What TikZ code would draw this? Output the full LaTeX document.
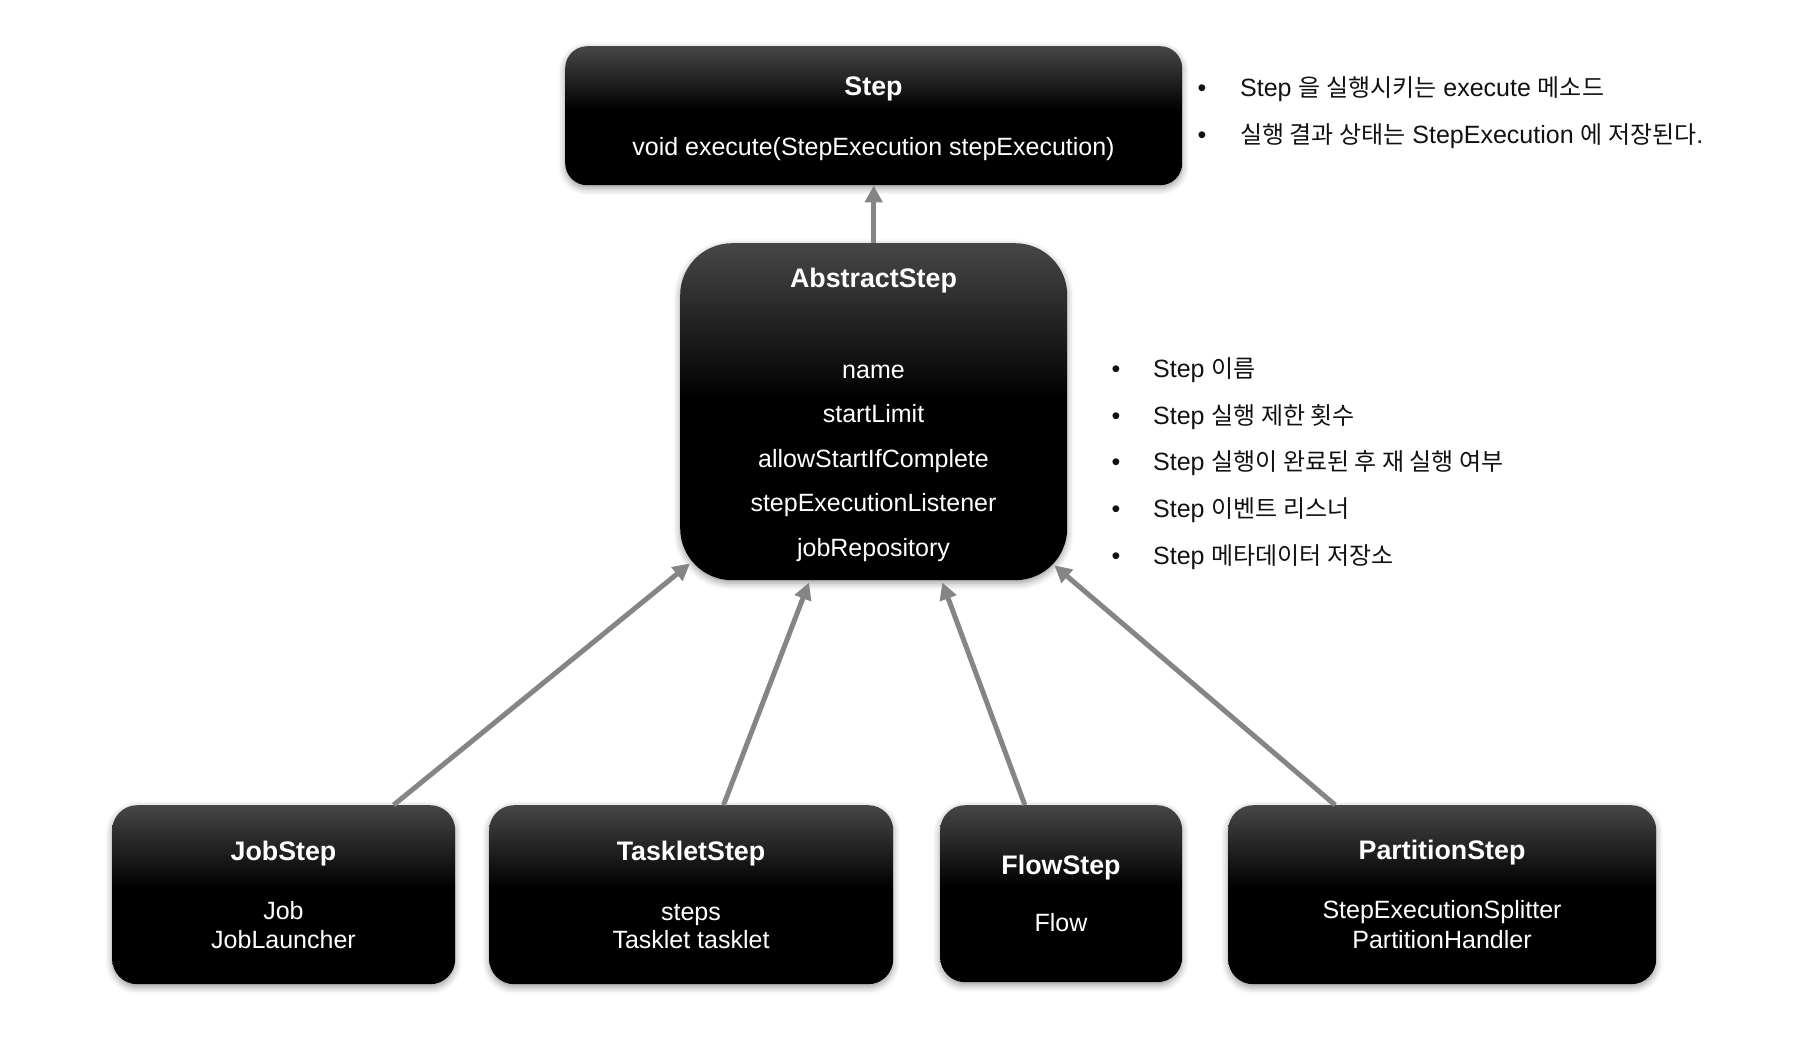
\documentclass[tikz,border=0pt]{standalone}
\usepackage{fontspec}
\setmainfont{Liberation Sans}
\newfontfamily\krfont[Scale=0.96]{Noto Sans CJK KR}
\newcommand{\hg}[1]{{\krfont #1}}
\usetikzlibrary{arrows.meta,calc,shadows.blur}
\definecolor{boxtop}{HTML}{474747}
\definecolor{linkgray}{HTML}{858585}
\definecolor{notetext}{HTML}{111111}
% dark card: grey at the top edge fading to black
\pgfdeclareverticalshading{boxshade}{100bp}{color(0bp)=(black); color(52bp)=(black); color(75bp)=(boxtop); color(100bp)=(boxtop)}

\begin{document}
\begin{tikzpicture}[x=1pt,y=-1pt,
  card/.style={rectangle, rounded corners=#1, shading=boxshade, draw=none,
    inner sep=0pt, anchor=north west,
    blur shadow={shadow xshift=0pt, shadow yshift=-3pt, shadow blur radius=7pt, shadow opacity=40}},
  title/.style={text=white, anchor=base, inner sep=0pt, font=\bfseries\fontsize{26.8}{30}\selectfont},
  body/.style={text=white, anchor=base, inner sep=0pt, font=\fontsize{25}{29}\selectfont},
  note/.style={text=notetext, anchor=base west, inner sep=0pt, font=\fontsize{25}{29}\selectfont},
  dot/.style={text=notetext, anchor=base, inner sep=0pt, font=\fontsize{25}{29}\selectfont},
  link/.style={draw=linkgray, line width=5pt, -{Triangle[length=17pt,width=17pt]}}
]
\useasboundingbox (0,0) rectangle (1808,1042);

% ---- boxes ----
\node[card=22pt, minimum width=617pt, minimum height=139pt] (step) at (565,46) {};
\node[card=52pt, minimum width=387pt, minimum height=337pt] (abs) at (680,243) {};
\node[card=25pt, minimum width=343pt, minimum height=179pt] (job) at (112,805) {};
\node[card=25pt, minimum width=404pt, minimum height=179pt] (tasklet) at (489,805) {};
\node[card=25pt, minimum width=242pt, minimum height=177pt] (flow) at (940,805) {};
\node[card=25pt, minimum width=428pt, minimum height=179pt] (partition) at (1228,805) {};

% ---- Step ----
\node[title] (stepT) at (873.5,95) {Step};
\node[body] (stepM) at (873.5,155) {void execute(StepExecution stepExecution)};

% ---- AbstractStep ----
\node[title] (absT) at (873.5,287) {AbstractStep};
\node[body] (absF1) at (873.5,378) {name};
\node[body] (absF2) at (873.5,422) {startLimit};
\node[body] (absF3) at (873.5,467) {allowStartIfComplete};
\node[body] (absF4) at (873.5,511) {stepExecutionListener};
\node[body] (absF5) at (873.5,556) {jobRepository};

% ---- implementations ----
\node[title] (jobT) at (283.5,860) {JobStep};
\node[body] (jobA) at (283.5,919) {Job};
\node[body] (jobB) at (283.5,948) {JobLauncher};

\node[title] (taskT) at (691,860) {TaskletStep};
\node[body] (taskA) at (691,920) {steps};
\node[body] (taskB) at (691,948) {Tasklet tasklet};

\node[title] (flowT) at (1061,874) {FlowStep};
\node[body] (flowA) at (1061,931) {Flow};

\node[title] (partT) at (1442,859) {PartitionStep};
\node[body] (partA) at (1442,918) {StepExecutionSplitter};
\node[body] (partB) at (1442,948) {PartitionHandler};

% ---- notes on Step ----
\node[dot] (d1) at (1202,96) {•};
\node[note] (n1) at (1240,96) {Step \hg{을 실행시키는} execute \hg{메소드}};
\node[dot] (d2) at (1202,143) {•};
\node[note] (n2) at (1240,143) {\hg{실행 결과 상태는} StepExecution \hg{에 저장된다}.};

% ---- notes on AbstractStep fields ----
\node[dot] (d3) at (1116,377) {•};
\node[note] (n3) at (1153,377) {Step \hg{이름}};
\node[dot] (d4) at (1116,424) {•};
\node[note] (n4) at (1153,424) {Step \hg{실행 제한 횟수}};
\node[dot] (d5) at (1116,470) {•};
\node[note] (n5) at (1153,470) {Step \hg{실행이 완료된 후 재 실행 여부}};
\node[dot] (d6) at (1116,517) {•};
\node[note] (n6) at (1153,517) {Step \hg{이벤트 리스너}};
\node[dot] (d7) at (1116,564) {•};
\node[note] (n7) at (1153,564) {Step \hg{메타데이터 저장소}};

% ---- inheritance links ----
\draw[link] (abs.north) -- (step.south);

\coordinate (j1) at ($(job.north west)!0.82!(job.north east)$);
\coordinate (a1) at ($(abs.south west)+(10,-17)$);
\coordinate (t1) at ($(tasklet.north west)!0.58!(tasklet.north east)$);
\coordinate (a2) at ($(abs.south west)!0.333!(abs.south east)+(0,2)$);
\coordinate (f1) at ($(flow.north west)!0.35!(flow.north east)$);
\coordinate (a3) at ($(abs.south west)!0.677!(abs.south east)+(0,2)$);
\coordinate (p1) at ($(partition.north west)!0.25!(partition.north east)$);
\coordinate (a4) at ($(abs.south east)+(-13,-15)$);

\draw[link] (j1) -- (a1);
\draw[link] (t1) -- (a2);
\draw[link] (f1) -- (a3);
\draw[link] (p1) -- (a4);
\end{tikzpicture}
\end{document}
